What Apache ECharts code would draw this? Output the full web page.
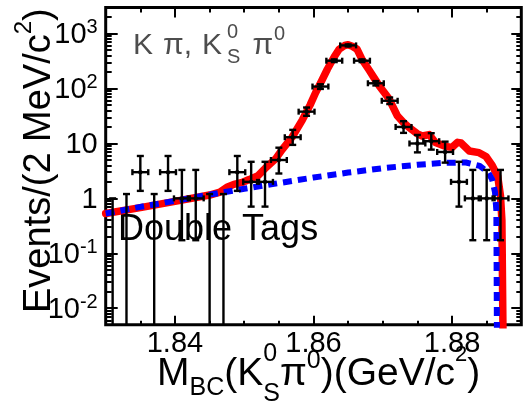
<!DOCTYPE html>
<html>
<head>
<meta charset="utf-8">
<script src="https://cdn.jsdelivr.net/npm/echarts@6/dist/echarts.min.js"></script>
<style>
html, body { margin: 0; padding: 0; background: #fff; }
#chart { width: 529px; height: 404px; }
</style>
</head>
<body>
<div id="chart"></div>
<script>
// M_BC bin centres (GeV/c^2), 2 MeV bins
const massBins = [1.831, 1.833, 1.835, 1.837, 1.839, 1.841, 1.843, 1.845, 1.847, 1.849,
                  1.851, 1.853, 1.855, 1.857, 1.859, 1.861, 1.863, 1.865, 1.867, 1.869,
                  1.871, 1.873, 1.875, 1.877, 1.879, 1.881, 1.883, 1.885, 1.887];
// events per bin
const events   = [0, 0, 3, 0, 3, 1, 1, 0, 0, 3,
                  2, 2, 5, 13, 38, 109, 322, 612, 322, 125,
                  60, 20, 10, 11, 7, 2, 1, 1, 1];
// lower / upper ends of the error bars (0 = runs off the bottom of the frame)
const errLow   = [0, 0, 1.37, 0, 1.37, 0.173, 0.173, 0, 0, 1.37,
                  0.708, 0.708, 2.84, 9.43, 31.9, 98.6, 304, 587, 304, 114,
                  52.3, 15.6, 6.89, 7.73, 4.48, 0.708, 0.173, 0.173, 0.173];
const errHigh  = [1.0, 1.2, 5.92, 1.2, 5.92, 3.30, 3.30, 1.2, 1.2, 5.92,
                  4.64, 4.64, 8.38, 17.7, 45.2, 120, 340, 637, 340, 137,
                  68.8, 25.5, 14.3, 15.4, 10.8, 4.64, 3.30, 3.30, 3.30];
const binWidth = 0.002;

// total fit (signal + background)
const fitMass  = [1.8300, 1.8350, 1.8400, 1.8450, 1.8465, 1.8475, 1.8485, 1.8497, 1.8507, 1.8520,
                  1.8532, 1.8545, 1.8555, 1.8569, 1.8584, 1.8595, 1.8603, 1.8612, 1.8620, 1.8630,
                  1.8637, 1.8645, 1.8650, 1.8656, 1.8663, 1.8670, 1.8680, 1.8687, 1.8695, 1.8709,
                  1.8721, 1.8730, 1.8738, 1.8750, 1.8757, 1.8767, 1.8776, 1.8791, 1.8800, 1.8808,
                  1.8813, 1.8825, 1.8839, 1.8849, 1.8858, 1.8866, 1.8870, 1.8872, 1.8874];
const fitTotal = [0.53, 0.68, 0.88, 1.15, 1.3, 1.6, 1.8, 1.95, 2.2, 2.6,
                  3.7, 5.2, 7.8, 13, 27, 50, 84, 140, 225, 380,
                  520, 610, 630, 590, 520, 340, 220, 160, 112, 65,
                  32, 24, 19.5, 15, 13.7, 14.5, 10.4, 8.8, 8.5, 10.5,
                  10.2, 7.3, 6.8, 5.8, 4.0, 2.5, 1.1, 0.4, 0.001];

// background component
const bkgMass  = [1.8300, 1.8350, 1.8400, 1.8450, 1.8500, 1.8550, 1.8600, 1.8650, 1.8700, 1.8750,
                  1.8790, 1.8820, 1.8840, 1.8852, 1.8858, 1.8862, 1.8864, 1.8865];
const bkgValue = [0.53, 0.70, 0.90, 1.17, 1.50, 1.90, 2.40, 2.95, 3.55, 4.1,
                  4.45, 4.5, 3.9, 3.0, 2.2, 1.3, 0.6, 0.001];

// axis ticks
const xMajorTicks = [1.84, 1.86, 1.88];
const xMinorTicks = [1.835, 1.845, 1.85, 1.855, 1.865, 1.87, 1.875, 1.885];
const yMajorTicks = [0.01, 0.1, 1, 10, 100, 1000];
const yMinorTicks = [0.006, 0.007, 0.008, 0.009,
                     0.02, 0.03, 0.04, 0.05, 0.06, 0.07, 0.08, 0.09,
                     0.2, 0.3, 0.4, 0.5, 0.6, 0.7, 0.8, 0.9,
                     2, 3, 4, 5, 6, 7, 8, 9,
                     20, 30, 40, 50, 60, 70, 80, 90,
                     200, 300, 400, 500, 600, 700, 800, 900, 2000];
const xRange = [1.83, 1.89];
const yRange = [0.005, 3000];

const FONT = '"Liberation Sans", Arial, Helvetica, sans-serif';
const chart = echarts.init(document.getElementById('chart'), null, { renderer: 'canvas' });

const measureCtx = document.createElement('canvas').getContext('2d');
function textWidth(t, size) {
  measureCtx.font = size + 'px ' + FONT;
  return measureCtx.measureText(t).width;
}
// lays out a run of text pieces (with sub/superscripts) along a baseline
function textRun(parts, x0, baseline, color) {
  let x = x0;
  const out = [];
  for (const p of parts) {
    const base = baseline + (p.dy || 0);
    out.push({
      type: 'text',
      x: x + (p.dx || 0),
      y: base - 0.35 * p.size,
      silent: true,
      style: {
        text: p.t, fill: color, font: p.size + 'px ' + FONT,
        textAlign: 'left', textVerticalAlign: 'middle',
        align: 'left', verticalAlign: 'middle'
      }
    });
    if (!p.stack) x += textWidth(p.t, p.size) + (p.dx || 0);
  }
  return out;
}

const pointData = massBins.map((m, i) => [m, events[i], errLow[i], errHigh[i]]);

function renderPoint(params, api) {
  const m = api.value(0), n = api.value(1), lo = api.value(2), hi = api.value(3);
  const cs = params.coordSys;
  const yBottom = cs.y + cs.height;
  const st = { stroke: '#000', lineWidth: 2.4 };
  const top = api.coord([m, hi]);
  const loY = lo > 0 ? Math.min(api.coord([m, lo])[1], yBottom) : yBottom;
  const kids = [
    { type: 'line', shape: { x1: top[0], y1: top[1], x2: top[0], y2: loY }, style: st },
    { type: 'line', shape: { x1: top[0] - 3.5, y1: top[1], x2: top[0] + 3.5, y2: top[1] }, style: st }
  ];
  if (lo > 0 && loY < yBottom) {
    kids.push({ type: 'line', shape: { x1: top[0] - 3.5, y1: loY, x2: top[0] + 3.5, y2: loY }, style: st });
  }
  if (n > 0) {
    const pl = api.coord([m - binWidth / 2, n]);
    const pr = api.coord([m + binWidth / 2, n]);
    const c = api.coord([m, n]);
    kids.push({ type: 'line', shape: { x1: pl[0] - 1, y1: pl[1], x2: pr[0] + 1, y2: pr[1] }, style: st });
    kids.push({ type: 'line', shape: { x1: pl[0] - 1, y1: pl[1] - 3, x2: pl[0] - 1, y2: pl[1] + 3 }, style: st });
    kids.push({ type: 'line', shape: { x1: pr[0] + 1, y1: pr[1] - 3, x2: pr[0] + 1, y2: pr[1] + 3 }, style: st });
    kids.push({ type: 'circle', shape: { cx: c[0], cy: c[1], r: 2.2 }, style: { fill: '#000' } });
  }
  return { type: 'group', children: kids };
}

function xAxisDef(position, ticks, len, withLabels) {
  return {
    type: 'value', position: position, min: xRange[0], max: xRange[1],
    axisLine: { show: false }, splitLine: { show: false },
    axisTick: { show: true, inside: true, length: len, customValues: ticks,
                lineStyle: { color: '#000', width: 2 } },
    axisLabel: withLabels ? {
      show: true, customValues: ticks, margin: 5,
      formatter: v => v.toFixed(2),
      color: '#000', fontSize: 29, fontFamily: FONT
    } : { show: false }
  };
}
function supLabel(v) {
  const e = Math.round(Math.log10(v));
  if (e === 0) return '{b|1}';
  if (e === 1) return '{b|10}';
  return '{b|10}{s|' + e + '}';
}
function yAxisDef(position, ticks, len, withLabels) {
  return {
    type: 'log', logBase: 10, position: position, min: yRange[0], max: yRange[1],
    axisLine: { show: false }, splitLine: { show: false }, minorTick: { show: false },
    axisTick: { show: true, inside: true, length: len, customValues: ticks,
                lineStyle: { color: '#000', width: 2 } },
    axisLabel: withLabels ? {
      show: true, customValues: ticks, margin: 8,
      formatter: supLabel,
      rich: {
        b: { fontSize: 29, fontFamily: FONT, color: '#000', verticalAlign: 'bottom', lineHeight: 32, padding: [9, 0, 0, 0] },
        s: { fontSize: 20, fontFamily: FONT, color: '#000', verticalAlign: 'top', lineHeight: 32, padding: [0, 0, 0, 0] }
      }
    } : { show: false }
  };
}

const titleX = textRun([
  { t: 'M', size: 39 },
  { t: 'BC', size: 25, dy: 9 },
  { t: '(K', size: 39 },
  { t: '0', size: 25, dy: -25, stack: true },
  { t: 'S', size: 25, dy: 15 },
  { t: 'π', size: 39 },
  { t: '0', size: 25, dy: -18 },
  { t: ')(GeV/c', size: 39 },
  { t: '2', size: 22, dy: -25 },
  { t: ')', size: 39 }
], 157, 388, '#000');

const titleY = {
  type: 'group', x: 53, y: 313, rotation: Math.PI / 2, silent: true,
  children: textRun([
    { t: 'Events/(2 MeV/c', size: 38 },
    { t: '2', size: 24, dy: -20 },
    { t: ')', size: 38 }
  ], 0, 0, '#000')
};

const channelLabel = textRun([
  { t: 'K', size: 30 },
  { t: 'π,', size: 30, dx: 10 },
  { t: 'K', size: 30, dx: 10 },
  { t: '0', size: 20, dy: -17, stack: true, dx: 5 },
  { t: 'S', size: 20, dy: 8, dx: 5 },
  { t: 'π', size: 30, dx: 12 },
  { t: '0', size: 20, dy: -15, dx: 1 }
], 133, 56, '#4d4d4d');

const tagLabel = textRun([{ t: 'Double Tags', size: 36 }], 118, 243, '#000');

chart.setOption({
  animation: false,
  backgroundColor: '#fff',
  grid: {
    left: 105.7, top: 7.5, right: 7.7, bottom: 79.3,
    show: true, borderColor: '#000', borderWidth: 3, backgroundColor: 'transparent',
    containLabel: false, outerBoundsMode: 'none'
  },
  xAxis: [
    xAxisDef('bottom', xMajorTicks, 9, true),
    xAxisDef('bottom', xMinorTicks, 4, false),
    xAxisDef('top', xMajorTicks, 10, false),
    xAxisDef('top', xMinorTicks, 5, false)
  ],
  yAxis: [
    yAxisDef('left', yMajorTicks, 12, true),
    yAxisDef('left', yMinorTicks, 6, false),
    yAxisDef('right', yMajorTicks, 10, false),
    yAxisDef('right', yMinorTicks, 5, false)
  ],
  series: [
    {
      name: 'fit', type: 'line', xAxisIndex: 0, yAxisIndex: 0,
      data: fitMass.map((m, i) => [m, fitTotal[i]]),
      showSymbol: false, symbol: 'none', clip: true, z: 2,
      lineStyle: { color: '#ff0000', width: 7.5, join: 'round', cap: 'round' }
    },
    {
      name: 'background', type: 'line', xAxisIndex: 0, yAxisIndex: 0,
      data: bkgMass.map((m, i) => [m, bkgValue[i]]),
      showSymbol: false, symbol: 'none', clip: true, z: 3,
      lineStyle: { color: '#0000ff', width: 6, type: [9, 6] }
    },
    {
      name: 'data', type: 'custom', xAxisIndex: 0, yAxisIndex: 0,
      data: pointData, renderItem: renderPoint, z: 4,
      encode: { x: 0, y: 1 }
    }
  ],
  graphic: [].concat(titleX, [titleY], channelLabel, tagLabel)
});
</script>
</body>
</html>
